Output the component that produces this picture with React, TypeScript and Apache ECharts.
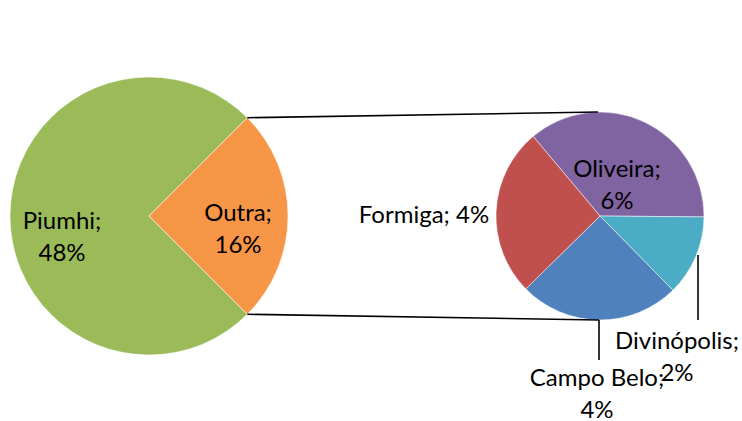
import React, { useEffect, useRef } from "react";
import * as echarts from "echarts";

// Primary pie
const mainNames = ["Piumhi", "Outra"];
const mainValues = [48, 16];
const mainColors = ["#9BBB59", "#F79646"];

// Secondary pie (breakdown of "Outra")
const subNames = ["Oliveira", "Divinópolis", "Campo Belo", "Formiga"];
const subValues = [5.8, 2.0, 4.0, 4.2];
const subColors = ["#8064A2", "#4BACC6", "#4F81BD", "#C0504D"];

// label placement (layout only)
const labelPos: Record<string, { x: number; y: number; oneLine?: boolean }> = {
  Piumhi: { x: 62, y: 235 },
  Outra: { x: 238, y: 227 },
  Oliveira: { x: 617, y: 183 },
  Formiga: { x: 424, y: 213, oneLine: true },
  "Divinópolis": { x: 677, y: 355 },
  "Campo Belo": { x: 597, y: 392 },
};

const FONT = "Lato, 'Open Sans', sans-serif";

export default function App() {
  const ref = useRef<HTMLDivElement>(null);
  useEffect(() => {
    if (!ref.current) return;
    const chart = echarts.init(ref.current, null, { renderer: "svg" });

    const c1 = [149, 216];
    const r1 = 139;
    const c2 = [600, 216];
    const r2 = 104;
    const outraStart = 45; // degrees (upper edge of "Outra" slice)
    const outraEnd = outraStart - (mainValues[1] / (mainValues[0] + mainValues[1])) * 360;
    const rad = (d: number) => (d * Math.PI) / 180;
    const p1 = [c1[0] + r1 * Math.cos(rad(outraStart)), c1[1] - r1 * Math.sin(rad(outraStart))];
    const p2 = [c1[0] + r1 * Math.cos(rad(outraEnd)), c1[1] - r1 * Math.sin(rad(outraEnd))];

    const label = {
      show: true,
      color: "#000",
      fontFamily: FONT,
      fontSize: 24,
      lineHeight: 32,
      align: "center",
      formatter: (p: any) => {
        const pos = labelPos[p.name];
        const sep = pos && pos.oneLine ? " " : "\n";
        return `${p.name};${sep}${Math.round(p.value)}%`;
      },
    };
    const layout = (params: any) => {
      const name = params.text.split(";")[0];
      const pos = labelPos[name];
      if (!pos) return {};
      return { x: pos.x, y: pos.y, align: "center", verticalAlign: "middle" };
    };

    const lineStyle = { stroke: "#000", lineWidth: 1.6 };

    chart.setOption({
      animation: false,
      backgroundColor: "#fff",
      series: [
        {
          type: "pie",
          center: c1,
          radius: r1,
          startAngle: outraStart,
          clockwise: false,
          data: mainNames.map((n, i) => ({ name: n, value: mainValues[i], itemStyle: { color: mainColors[i] } })),
          itemStyle: { borderColor: "#fff", borderWidth: 0.5 },
          label: { ...label, position: "inside" },
          labelLine: { show: false },
          labelLayout: layout,
          silent: true,
        },
        {
          type: "pie",
          center: c2,
          radius: r2,
          startAngle: 130,
          clockwise: true,
          data: subNames.map((n, i) => ({ name: n, value: subValues[i], itemStyle: { color: subColors[i] } })),
          itemStyle: { borderColor: "#fff", borderWidth: 0.5 },
          label: { ...label, position: "inside" },
          labelLine: { show: false },
          labelLayout: layout,
          silent: true,
        },
      ],
      graphic: [
        { type: "line", shape: { x1: p1[0], y1: p1[1], x2: c2[0] - 2, y2: c2[1] - r2 }, style: lineStyle, z: 10 },
        { type: "line", shape: { x1: p2[0], y1: p2[1], x2: c2[0] - 1, y2: c2[1] + r2 }, style: lineStyle, z: 10 },
        { type: "line", shape: { x1: c2[0] - 1, y1: c2[1] + r2, x2: c2[0] - 1, y2: c2[1] + r2 + 40 }, style: lineStyle, z: 10 },
        { type: "line", shape: { x1: 698, y1: 255, x2: 698, y2: 320 }, style: lineStyle, z: 10 },
      ],
    });
    return () => chart.dispose();
  }, []);
  return (
    <div
      ref={ref}
      style={{ position: "fixed", left: 0, top: 0, width: 742, height: 421 }}
    />
  );
}
